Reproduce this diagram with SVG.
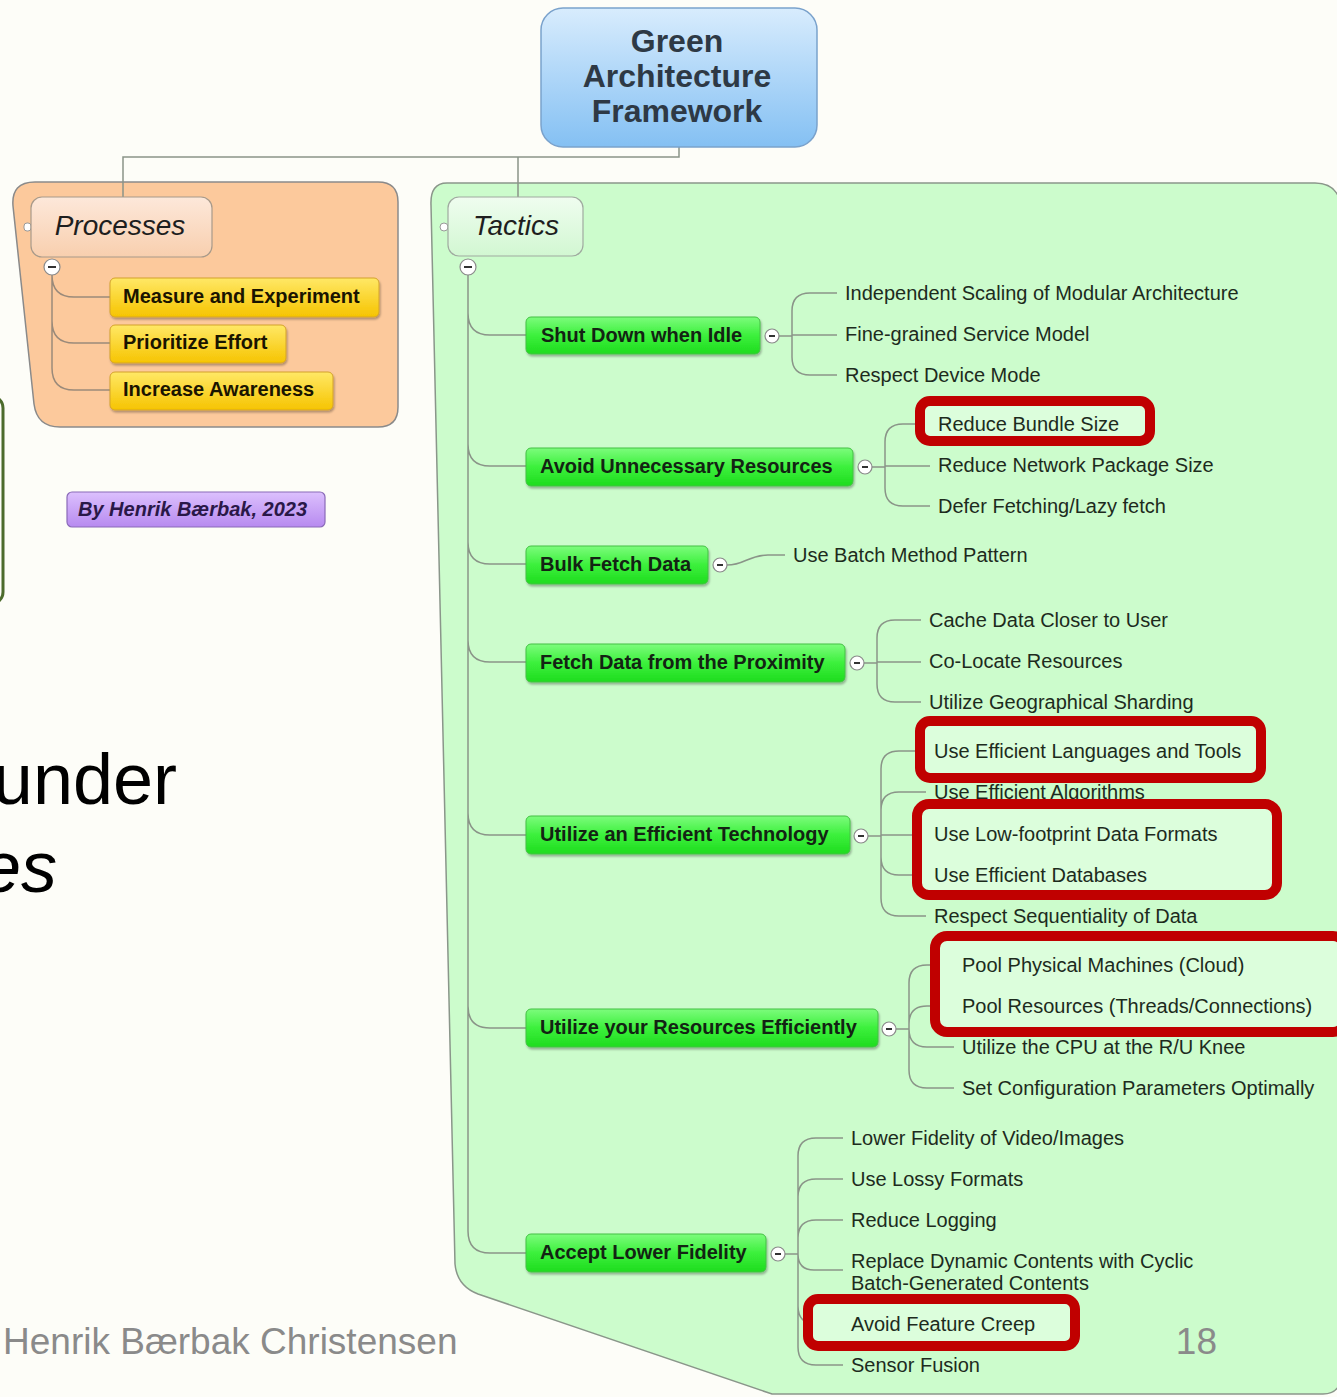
<svg xmlns="http://www.w3.org/2000/svg" width="1337" height="1397" viewBox="0 0 1337 1397">
<defs>
<linearGradient id="gBlue" x1="0" y1="0" x2="0" y2="1"><stop offset="0" stop-color="#d8ecfd"/><stop offset="1" stop-color="#84c0f3"/></linearGradient>
<linearGradient id="gGreen" x1="0" y1="0" x2="0" y2="1"><stop offset="0" stop-color="#7cfc7c"/><stop offset="0.5" stop-color="#3cf03c"/><stop offset="1" stop-color="#1edc1e"/></linearGradient>
<linearGradient id="gYellow" x1="0" y1="0" x2="0" y2="1"><stop offset="0" stop-color="#ffe866"/><stop offset="1" stop-color="#f6c400"/></linearGradient>
<linearGradient id="gPurple" x1="0" y1="0" x2="0" y2="1"><stop offset="0" stop-color="#dcc0fd"/><stop offset="1" stop-color="#b78af0"/></linearGradient>
<linearGradient id="gProc" x1="0" y1="0" x2="0" y2="1"><stop offset="0" stop-color="#fde8da"/><stop offset="1" stop-color="#f8cfae"/></linearGradient>
<linearGradient id="gTact" x1="0" y1="0" x2="0" y2="1"><stop offset="0" stop-color="#effdef"/><stop offset="1" stop-color="#d2f7d2"/></linearGradient>
<filter id="sh" x="-5%" y="-20%" width="110%" height="150%"><feDropShadow dx="1" dy="2" stdDeviation="1.2" flood-color="#000" flood-opacity="0.3"/></filter>
</defs>
<style>
text{font-family:"Liberation Sans",Arial,sans-serif}
.conn{fill:none;stroke:#8a9488;stroke-width:1.5}
.pconn{fill:none;stroke:#9a8a7a;stroke-width:1.5}
.gnode{fill:url(#gGreen);stroke:#44c044;stroke-width:1;filter:url(#sh)}
.ynode{fill:url(#gYellow);stroke:#d4a22a;stroke-width:1;filter:url(#sh)}
.gt{font-size:20px;font-weight:bold;fill:#132313}
.yt{font-size:20px;font-weight:bold;fill:#1a1400}
.leaf{font-size:20px;fill:#1d2b1d}
.tog circle{fill:#fff;stroke:#8a8a8a;stroke-width:1.2}
.tog line{stroke:#333;stroke-width:2}
.red{fill:none;stroke:#c00000;stroke-width:10}
.redbg{fill:#dcfedc}
</style>
<rect x="0" y="0" width="1337" height="1397" fill="#fdfdf8"/>
<rect x="-22" y="396" width="25" height="208" rx="12" fill="none" stroke="#4c6b2c" stroke-width="3"/>

<!-- regions -->
<path id="processes-region" d="M35,182 H378 Q398,182 398,202 V407 Q398,427 378,427 H60 Q37,427 34,404 L13,206 Q11,182 35,182 Z" fill="#fcc99c" stroke="#8a8a8a" stroke-width="1.5"/>
<path id="tactics-region" d="M447,183 H1315 Q1337,183 1341,205 V1378 Q1339,1394 1323,1394 H772 L478,1294 Q457,1286 455,1264 L431,205 Q430,183 447,183 Z" fill="#ccfccc" stroke="#8a968a" stroke-width="1.5"/>

<!-- connectors -->
<g id="connectors">
<path class="conn" d="M679,147 V157 H123 V197 M518,157 V197"/>
<path class="pconn" d="M52,275 V368 Q52,390 74,390 H110 M52,275 V321 Q52,343 74,343 H110 M52,275 V275 Q52,297 74,297 H110"/>
<path class="conn" d="M468,275 V1231 Q468,1253 490,1253 H526 M468,313 Q468,335 490,335 H526 M468,444 Q468,466 490,466 H526 M468,542 Q468,564 490,564 H526 M468,640 Q468,662 490,662 H526 M468,813 Q468,835 490,835 H526 M468,1006 Q468,1028 490,1028 H526"/>
<path class="conn" d="M779,336 H792 M792,336 V311 Q792,293 810,293 H837 M792,335 H837 M792,336 V357 Q792,375 810,375 H837"/>
<path class="conn" d="M872,467 H885 M885,467 V442 Q885,424 903,424 H930 M885,466 H930 M885,467 V488 Q885,506 903,506 H930"/>
<path class="conn" d="M727,565 C745,565 748,555 768,555 H785"/>
<path class="conn" d="M864,663 H877 M877,663 V638 Q877,620 895,620 H921 M877,662 H921 M877,663 V684 Q877,702 895,702 H921"/>
<path class="conn" d="M868,836 H881 M881,836 V769 Q881,751 899,751 H926 M881,836 V810 Q881,792 899,792 H926 M881,835 H926 M881,836 V857 Q881,875 899,875 H926 M881,836 V898 Q881,916 899,916 H926"/>
<path class="conn" d="M896,1029 H909 M909,1029 V983 Q909,965 927,965 H954 M909,1029 V1024 Q909,1006 927,1006 H954 M909,1029 V1029 Q909,1047 927,1047 H954 M909,1029 V1070 Q909,1088 927,1088 H954"/>
<path class="conn" d="M785,1254 H798 M798,1254 V1156 Q798,1138 816,1138 H843 M798,1254 V1197 Q798,1179 816,1179 H843 M798,1254 V1238 Q798,1220 816,1220 H843 M798,1254 V1254 Q798,1270 814,1270 H843 M798,1254 V1306 Q798,1324 816,1324 H843 M798,1254 V1347 Q798,1365 816,1365 H843"/>
</g>

<!-- root -->
<g id="root">
<rect x="541" y="8" width="276" height="139" rx="22" fill="url(#gBlue)" stroke="#7aa2cc" stroke-width="1.5"/>
<text x="677" y="52" text-anchor="middle" font-size="32" font-weight="bold" fill="#2e3945">Green</text>
<text x="677" y="87" text-anchor="middle" font-size="32" font-weight="bold" fill="#2e3945">Architecture</text>
<text x="677" y="122" text-anchor="middle" font-size="32" font-weight="bold" fill="#2e3945">Framework</text>
</g>

<!-- processes -->
<g id="processes">
<rect x="24" y="223" width="7" height="8" rx="3" fill="#fff" stroke="#999" stroke-width="1"/>
<rect x="31" y="197" width="181" height="60" rx="11" fill="url(#gProc)" stroke="#a89a8a" stroke-width="1.2"/>
<text x="120" y="235" text-anchor="middle" font-size="28" font-style="italic" fill="#1e1e1e">Processes</text>
<g class="tog"><circle cx="52" cy="267" r="8"/><line x1="48" y1="267" x2="56" y2="267"/></g>
</g>
<g id="measure"><rect class="ynode" x="110" y="278" width="269" height="39" rx="5"/><text class="yt" x="123" y="303">Measure and Experiment</text></g>
<g id="prioritize"><rect class="ynode" x="110" y="325" width="176" height="38" rx="5"/><text class="yt" x="123" y="349">Prioritize Effort</text></g>
<g id="awareness"><rect class="ynode" x="110" y="372" width="223" height="38" rx="5"/><text class="yt" x="123" y="396">Increase Awareness</text></g>

<g id="author">
<rect x="67" y="492" width="258" height="35" rx="5" fill="url(#gPurple)" stroke="#8a6ab8" stroke-width="1.2"/>
<text x="78" y="516" font-size="20" font-weight="bold" font-style="italic" fill="#2a1848">By Henrik Bærbak, 2023</text>
</g>

<!-- tactics -->
<g id="tactics">
<rect x="440" y="223" width="8" height="8" rx="4" fill="#fff" stroke="#999" stroke-width="1"/>
<rect x="448" y="197" width="135" height="59" rx="11" fill="url(#gTact)" stroke="#a0aaa0" stroke-width="1.2"/>
<text x="516" y="235" text-anchor="middle" font-size="28" font-style="italic" fill="#1e1e1e">Tactics</text>
<g class="tog"><circle cx="468" cy="267" r="8"/><line x1="464" y1="267" x2="472" y2="267"/></g>
</g>

<g id="t-shutdown"><rect class="gnode" x="526" y="317" width="234" height="37" rx="5"/><text class="gt" x="541" y="342">Shut Down when Idle</text><g class="tog"><circle cx="772" cy="336" r="7"/><line x1="769" y1="336" x2="775" y2="336"/></g></g>
<g id="t-avoid"><rect class="gnode" x="526" y="448" width="327" height="38" rx="5"/><text class="gt" x="540" y="473">Avoid Unnecessary Resources</text><g class="tog"><circle cx="865" cy="467" r="7"/><line x1="862" y1="467" x2="868" y2="467"/></g></g>
<g id="t-bulk"><rect class="gnode" x="526" y="546" width="182" height="38" rx="5"/><text class="gt" x="540" y="571">Bulk Fetch Data</text><g class="tog"><circle cx="720" cy="565" r="7"/><line x1="717" y1="565" x2="723" y2="565"/></g></g>
<g id="t-proximity"><rect class="gnode" x="526" y="644" width="319" height="38" rx="5"/><text class="gt" x="540" y="669">Fetch Data from the Proximity</text><g class="tog"><circle cx="857" cy="663" r="7"/><line x1="854" y1="663" x2="860" y2="663"/></g></g>
<g id="t-technology"><rect class="gnode" x="526" y="816" width="324" height="38" rx="5"/><text class="gt" x="540" y="841">Utilize an Efficient Technology</text><g class="tog"><circle cx="861" cy="836" r="7"/><line x1="858" y1="836" x2="864" y2="836"/></g></g>
<g id="t-resources"><rect class="gnode" x="526" y="1009" width="352" height="38" rx="5"/><text class="gt" x="540" y="1034">Utilize your Resources Efficiently</text><g class="tog"><circle cx="889" cy="1029" r="7"/><line x1="886" y1="1029" x2="892" y2="1029"/></g></g>
<g id="t-fidelity"><rect class="gnode" x="526" y="1234" width="240" height="38" rx="5"/><text class="gt" x="540" y="1259">Accept Lower Fidelity</text><g class="tog"><circle cx="778" cy="1254" r="7"/><line x1="775" y1="1254" x2="781" y2="1254"/></g></g>

<!-- highlight backgrounds -->
<g id="highlight-bg">
<rect class="redbg" x="920" y="401" width="230" height="40" rx="4"/>
<rect class="redbg" x="920" y="721" width="341" height="57" rx="4"/>
<rect class="redbg" x="917" y="804" width="360" height="91" rx="4"/>
<rect class="redbg" x="935" y="936" width="410" height="96" rx="4"/>
<rect class="redbg" x="808" y="1299" width="267" height="47" rx="4"/>
</g>

<!-- leaves -->
<g id="leaves-shutdown">
<text class="leaf" x="845" y="300">Independent Scaling of Modular Architecture</text>
<text class="leaf" x="845" y="341">Fine-grained Service Model</text>
<text class="leaf" x="845" y="382">Respect Device Mode</text>
</g>
<g id="leaves-avoid">
<text class="leaf" x="938" y="431">Reduce Bundle Size</text>
<text class="leaf" x="938" y="472">Reduce Network Package Size</text>
<text class="leaf" x="938" y="513">Defer Fetching/Lazy fetch</text>
</g>
<g id="leaves-bulk">
<text class="leaf" x="793" y="562">Use Batch Method Pattern</text>
</g>
<g id="leaves-proximity">
<text class="leaf" x="929" y="627">Cache Data Closer to User</text>
<text class="leaf" x="929" y="668">Co-Locate Resources</text>
<text class="leaf" x="929" y="709">Utilize Geographical Sharding</text>
</g>
<g id="leaves-technology">
<text class="leaf" x="934" y="758">Use Efficient Languages and Tools</text>
<text class="leaf" x="934" y="799">Use Efficient Algorithms</text>
<text class="leaf" x="934" y="841">Use Low-footprint Data Formats</text>
<text class="leaf" x="934" y="882">Use Efficient Databases</text>
<text class="leaf" x="934" y="923">Respect Sequentiality of Data</text>
</g>
<g id="leaves-resources">
<text class="leaf" x="962" y="972">Pool Physical Machines (Cloud)</text>
<text class="leaf" x="962" y="1013">Pool Resources (Threads/Connections)</text>
<text class="leaf" x="962" y="1054">Utilize the CPU at the R/U Knee</text>
<text class="leaf" x="962" y="1095">Set Configuration Parameters Optimally</text>
</g>
<g id="leaves-fidelity">
<text class="leaf" x="851" y="1145">Lower Fidelity of Video/Images</text>
<text class="leaf" x="851" y="1186">Use Lossy Formats</text>
<text class="leaf" x="851" y="1227">Reduce Logging</text>
<text class="leaf" x="851" y="1268">Replace Dynamic Contents with Cyclic</text>
<text class="leaf" x="851" y="1290">Batch-Generated Contents</text>
<text class="leaf" x="851" y="1331">Avoid Feature Creep</text>
<text class="leaf" x="851" y="1372">Sensor Fusion</text>
</g>

<!-- red highlight boxes -->
<g id="highlights">
<rect class="red" x="920" y="401" width="230" height="40" rx="10"/>
<rect class="red" x="920" y="721" width="341" height="57" rx="10"/>
<rect class="red" x="917" y="804" width="360" height="91" rx="12"/>
<rect class="red" x="935" y="936" width="410" height="96" rx="12"/>
<rect class="red" x="808" y="1299" width="267" height="47" rx="10"/>
</g>

<!-- slide text -->
<g id="slide-text">
<text x="177" y="804" text-anchor="end" font-size="72" fill="#000">under</text>
<text x="57" y="892" text-anchor="end" font-size="72" font-style="italic" fill="#000">es</text>
<text x="3" y="1354" font-size="37" fill="#8a8a8a">Henrik Bærbak Christensen</text>
<text x="1217" y="1354" text-anchor="end" font-size="37" fill="#8a8a8a">18</text>
</g>
</svg>
